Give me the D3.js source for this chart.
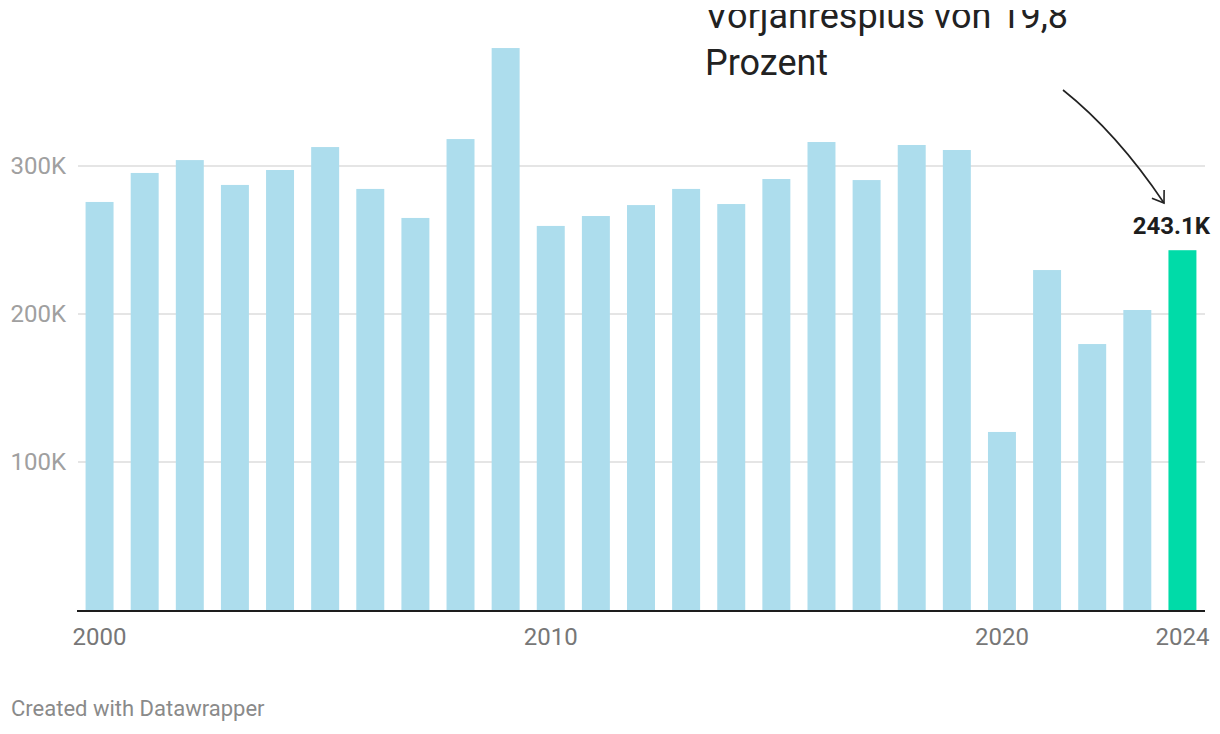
<!DOCTYPE html>
<html>
<head>
<meta charset="utf-8">
<script src="https://cdn.jsdelivr.net/npm/d3@7"></script>
<style>
  body { margin: 0; background: #fff; }
  svg { display: block; font-family: Roboto, "Noto Sans", sans-serif; }
</style>
</head>
<body>
<div class="chart"></div>
<script>
// data (values in persons)
var years = [2000, 2001, 2002, 2003, 2004, 2005, 2006, 2007, 2008, 2009,
             2010, 2011, 2012, 2013, 2014, 2015, 2016, 2017, 2018, 2019,
             2020, 2021, 2022, 2023, 2024];
var values = [275700, 295300, 304000, 287200, 297300, 312800, 284500, 264900, 318200, 379700,
              259500, 266200, 273600, 284500, 274300, 291200, 316200, 290500, 314200, 310800,
              120300, 229700, 179700, 202700, 243100];
var yTicks = [100000, 200000, 300000];
var xTicks = [2000, 2010, 2020, 2024];
var highlightYear = 2024;
var noteLines = ["Vorjahresplus von 19,8", "Prozent"];

var W = 1220, H = 734;
var margin = {top: 166, right: 15, bottom: 124, left: 77};

var svg = d3.select(".chart").append("svg")
    .attr("width", W)
    .attr("height", H);

var x = d3.scaleBand()
    .domain(years)
    .range([margin.left, W - margin.right])
    .paddingInner(0.38)
    .paddingOuter(0.19);

var y = d3.scaleLinear()
    .domain([0, 300000])
    .range([H - margin.bottom, margin.top]);

var fmtK = function(d) { return (d / 1000) + "K"; };

// the annotation runs above the visible chart area, clip it like the original
svg.append("defs").append("clipPath")
    .attr("id", "clip-note")
  .append("rect")
    .attr("x", 0)
    .attr("y", 10)
    .attr("width", W)
    .attr("height", H);

// gridlines
svg.append("g").selectAll("line")
    .data(yTicks)
  .enter().append("line")
    .attr("x1", margin.left + 1)
    .attr("x2", W - margin.right)
    .attr("y1", function(d) { return y(d); })
    .attr("y2", function(d) { return y(d); })
    .attr("stroke", "#e5e5e5")
    .attr("stroke-width", 2);

// y labels
svg.append("g").selectAll("text")
    .data(yTicks)
  .enter().append("text")
    .attr("x", 66)
    .attr("y", function(d) { return y(d); })
    .attr("dy", "0.35em")
    .attr("text-anchor", "end")
    .attr("fill", "#a0a0a0")
    .style("font-size", "24px")
    .text(fmtK);

// bars
svg.append("g").selectAll("rect")
    .data(years)
  .enter().append("rect")
    .attr("x", function(d) { return x(d); })
    .attr("width", x.bandwidth())
    .attr("y", function(d, i) { return y(values[i]); })
    .attr("height", function(d, i) { return y(0) - y(values[i]); })
    .attr("fill", function(d) { return d === highlightYear ? "#00dba8" : "#addded"; });

// baseline
svg.append("line")
    .attr("x1", margin.left)
    .attr("x2", W - margin.right)
    .attr("y1", y(0) + 1)
    .attr("y2", y(0) + 1)
    .attr("stroke", "#1d1d1d")
    .attr("stroke-width", 2);

// x labels
svg.append("g").selectAll("text")
    .data(xTicks)
  .enter().append("text")
    .attr("x", function(d) { return x(d) + x.bandwidth() / 2; })
    .attr("y", y(0) + 35)
    .attr("text-anchor", "middle")
    .attr("fill", "#777")
    .style("font-size", "24px")
    .text(function(d) { return d; });

// value label on highlighted bar
var hi = years.indexOf(highlightYear);
svg.append("text")
    .attr("x", W - 10)
    .attr("y", y(values[hi]) - 16)
    .attr("text-anchor", "end")
    .attr("fill", "#1d1d1d")
    .style("font-size", "24px")
    .style("font-weight", "bold")
    .text(d3.format(".1f")(values[hi] / 1000) + "K");

// annotation text
svg.append("g")
    .attr("clip-path", "url(#clip-note)")
    .selectAll("text")
    .data(noteLines)
  .enter().append("text")
    .attr("x", 705)
    .attr("y", function(d, i) { return 28 + i * 47; })
    .attr("fill", "#222")
    .style("font-size", "36px")
    .text(function(d) { return d; });

// curved arrow
var p0 = [1063, 90], c = [1117, 133], p1 = [1164, 203];
svg.append("path")
    .attr("d", "M" + p0 + "Q" + c + " " + p1)
    .attr("fill", "none")
    .attr("stroke", "#222")
    .attr("stroke-width", 1.6);

var ang = Math.atan2(p1[1] - c[1], p1[0] - c[0]);
var head = [ang + Math.PI - 0.6, ang + Math.PI + 0.6].map(function(a) {
  return [p1[0] + 13 * Math.cos(a), p1[1] + 13 * Math.sin(a)];
});
svg.append("path")
    .attr("d", "M" + head[0] + "L" + p1 + "L" + head[1])
    .attr("fill", "none")
    .attr("stroke", "#222")
    .attr("stroke-width", 1.6);

// footer
svg.append("text")
    .attr("x", 11)
    .attr("y", 716)
    .attr("fill", "#8a8a8a")
    .style("font-size", "22px")
    .text("Created with Datawrapper");
</script>
</body>
</html>
